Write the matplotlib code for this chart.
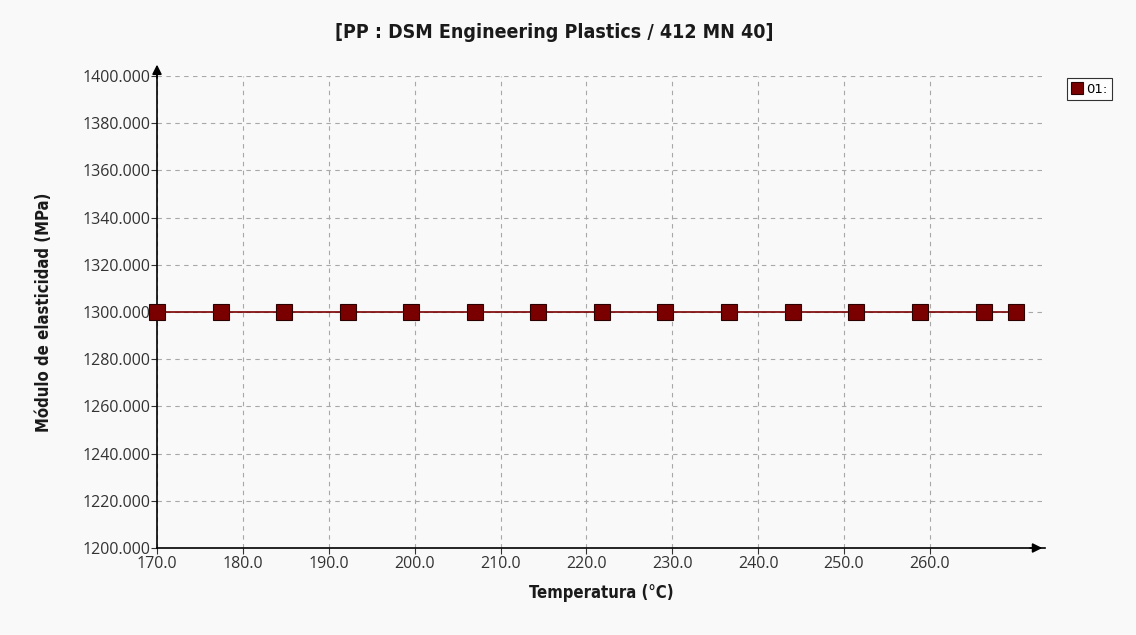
import matplotlib.pyplot as plt

# data
temperatura = [170.0, 177.4, 184.8, 192.2, 199.6, 207.0, 214.4, 221.8,
               229.2, 236.6, 244.0, 251.4, 258.9, 266.3, 270.0]
modulo = [1300.0] * len(temperatura)
xticks = [170, 180, 190, 200, 210, 220, 230, 240, 250, 260]
yticks = [1200, 1220, 1240, 1260, 1280, 1300, 1320, 1340, 1360, 1380, 1400]

bg = '#f9f9f9'
tickfont = 'Open Sans'
fig = plt.figure(figsize=(11.36, 6.35), dpi=100, facecolor=bg)
ax = fig.add_axes([157 / 1136, 1 - 548 / 635, (1045 - 157) / 1136, (548 - 76) / 635])
ax.set_facecolor(bg)

ax.plot(temperatura, modulo, color='#7a0000', lw=1.2, marker='s', ms=12,
        mfc='#7a0000', mec='#2a0000', mew=0.8, label='01:', zorder=3, clip_on=False)

ax.set_xlim(170, 273.4)
ax.set_ylim(1200, 1400)
ax.set_xticks(xticks)
ax.set_xticklabels([f'{v:.1f}' for v in xticks], family=tickfont)
ax.set_yticks(yticks)
ax.set_yticklabels([f'{v:.3f}' for v in yticks], family=tickfont)
ax.tick_params(labelsize=11.5, colors='#333333', length=4, width=0.8)
ax.tick_params(axis='x', pad=1.5)
ax.tick_params(axis='y', pad=1)
ax.grid(True, ls=(0, (4, 4)), color='#a8a8a8', lw=0.8)

for s in ['top', 'right']:
    ax.spines[s].set_visible(False)
ax.spines['left'].set_linewidth(1.2)
ax.spines['bottom'].set_linewidth(1.2)

# arrows on the axes
ax.annotate('', xy=(0, 1.03), xycoords='axes fraction', xytext=(0, 0.99),
            arrowprops=dict(arrowstyle='-|>', color='black', lw=1.2, mutation_scale=14))
ax.annotate('', xy=(1.0, 0), xycoords='axes fraction', xytext=(0.98, 0),
            arrowprops=dict(arrowstyle='-|>', color='black', lw=1.2, mutation_scale=14))

ax.set_xlabel('Temperatura (°C)', fontsize=12, fontweight='bold', family='DejaVu Sans',
              stretch='condensed', labelpad=9, color='#1a1a1a')
ax.set_ylabel('Módulo de elasticidad (MPa)', fontsize=12, fontweight='bold', family='DejaVu Sans',
              stretch='condensed', labelpad=21, color='#1a1a1a')
fig.text(554 / 1136, 1 - 33 / 635, '[PP : DSM Engineering Plastics / 412 MN 40]', ha='center', va='center',
         fontsize=14, fontweight='bold', family='DejaVu Sans', stretch='condensed', color='#1a1a1a')

leg = ax.legend(loc='upper left', bbox_to_anchor=(1067 / 1136, 1 - 78 / 635), bbox_transform=fig.transFigure,
                frameon=True, fancybox=False, fontsize=9.5, handlelength=0.8, handletextpad=0.3,
                borderpad=0.35, markerscale=0.7, borderaxespad=0)
leg.get_frame().set_edgecolor('black')
leg.get_frame().set_linewidth(0.8)
leg.get_lines()[0].set_linestyle('none')

fig.savefig('out.png', dpi=100, facecolor=bg)
